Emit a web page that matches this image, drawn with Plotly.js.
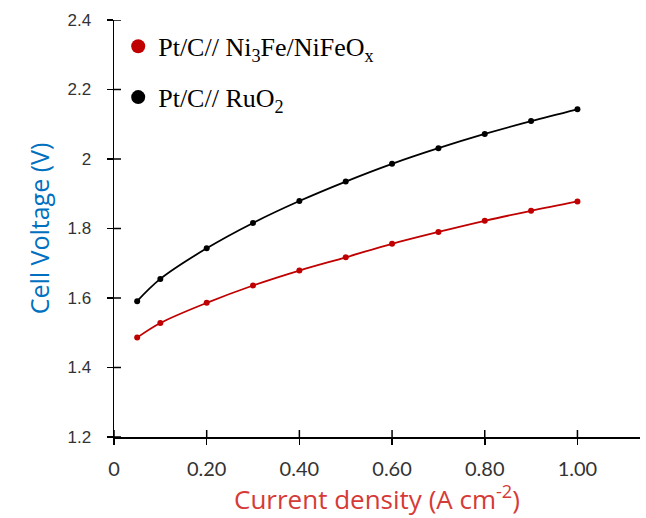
<!DOCTYPE html>
<html>
<head>
<meta charset="utf-8">
<script src="https://cdn.plot.ly/plotly-3.0.1.min.js"></script>
<style>html,body{margin:0;padding:0;background:#fff;}#chart{width:646px;height:518px;}</style>
</head>
<body>
<div id="chart"></div>
<script>
var currentDensity = [0.05, 0.1, 0.2, 0.3, 0.4, 0.5, 0.6, 0.7, 0.8, 0.9, 1.0];
var voltageNi3Fe = [1.486, 1.528, 1.586, 1.636, 1.679, 1.717, 1.756, 1.790, 1.822, 1.851, 1.878];
var voltageRuO2 = [1.591, 1.655, 1.743, 1.816, 1.879, 1.935, 1.986, 2.031, 2.072, 2.109, 2.143];
var seriesNames = ['Pt/C// Ni<sub>3</sub>Fe/NiFeO<sub>x</sub>', 'Pt/C// RuO<sub>2</sub>'];
var xTickVals = [0, 0.2, 0.4, 0.6, 0.8, 1.0];
var xTickText = ['0', '0.20', '0.40', '0.60', '0.80', '1.00'];
var yTickVals = [1.2, 1.4, 1.6, 1.8, 2.0, 2.2, 2.4];
var yTickText = ['1.2', '1.4', '1.6', '1.8', '2', '2.2', '2.4'];

var red = '#C00000';
var black = '#000000';

var traces = [
  {x: currentDensity, y: voltageNi3Fe, mode: 'lines+markers', line: {color: red, width: 1.8, shape: 'spline'},
   marker: {color: red, size: 6}, showlegend: false, hoverinfo: 'x+y'},
  {x: currentDensity, y: voltageRuO2, mode: 'lines+markers', line: {color: black, width: 1.8, shape: 'spline'},
   marker: {color: black, size: 6}, showlegend: false, hoverinfo: 'x+y'},
  {x: [null], y: [null], mode: 'markers', marker: {color: red, size: 14}, name: seriesNames[0], legendgroup: 'a'},
  {x: [null], y: [null], mode: 'markers', marker: {color: black, size: 14}, name: seriesNames[1], legendgroup: 'b'}
];

// inner halves of the crossing tick marks, placed at the axis tick values
var plotW = 646 - 114 - 6, plotH = 518 - 20 - 81, innerLen = 7;
var shapes = [];
xTickVals.forEach(function (v) {
  shapes.push({type: 'line', xref: 'x', yref: 'paper', x0: v, x1: v, y0: 0, y1: innerLen / plotH,
    line: {color: '#000', width: 1.5}});
});
yTickVals.forEach(function (v) {
  shapes.push({type: 'line', xref: 'paper', yref: 'y', x0: 0, x1: innerLen / plotW, y0: v, y1: v,
    line: {color: '#000', width: 1.5}});
});

var tickFontY = {family: 'Liberation Sans, Arial, sans-serif', size: 17, color: '#333333'};
var tickFontX = {family: 'Lato, Open Sans, sans-serif', size: 20, color: '#333333'};

var layout = {
  width: 646, height: 518,
  margin: {l: 114, r: 6, t: 20, b: 81},
  paper_bgcolor: '#ffffff', plot_bgcolor: '#ffffff',
  showlegend: true,
  shapes: shapes,
  legend: {x: 0.008, y: 0.993, xanchor: 'left', yanchor: 'top', bgcolor: 'rgba(0,0,0,0)',
    font: {family: 'Liberation Serif, Times New Roman, serif', size: 26, color: '#000'},
    traceorder: 'grouped', tracegroupgap: 14},
  xaxis: {
    range: [0, 1.135], tickvals: xTickVals, ticktext: xTickText, ticks: 'outside', ticklen: 6, tickwidth: 1.5,
    tickcolor: '#000', showline: true, linecolor: '#000', linewidth: 1.5, showgrid: false, zeroline: false,
    tickfont: tickFontX, ticklabelstandoff: 7,
    title: {text: 'Current density (A cm<sup>-2</sup>)', font: {family: 'Open Sans, sans-serif', size: 26, color: '#D63A36'}, standoff: 8}
  },
  yaxis: {
    range: [1.2, 2.4], tickvals: yTickVals, ticktext: yTickText, ticks: 'outside', ticklen: 6, tickwidth: 1.5,
    tickcolor: '#000', showline: true, linecolor: '#000', linewidth: 1.5, showgrid: false, zeroline: false,
    tickfont: tickFontY, ticklabelstandoff: 12,
    title: {text: 'Cell Voltage (V)', font: {family: 'Open Sans, sans-serif', size: 25, color: '#0070C0'}, standoff: 10}
  }
};

Plotly.newPlot('chart', traces, layout, {displayModeBar: false, staticPlot: true});
</script>
</body>
</html>
